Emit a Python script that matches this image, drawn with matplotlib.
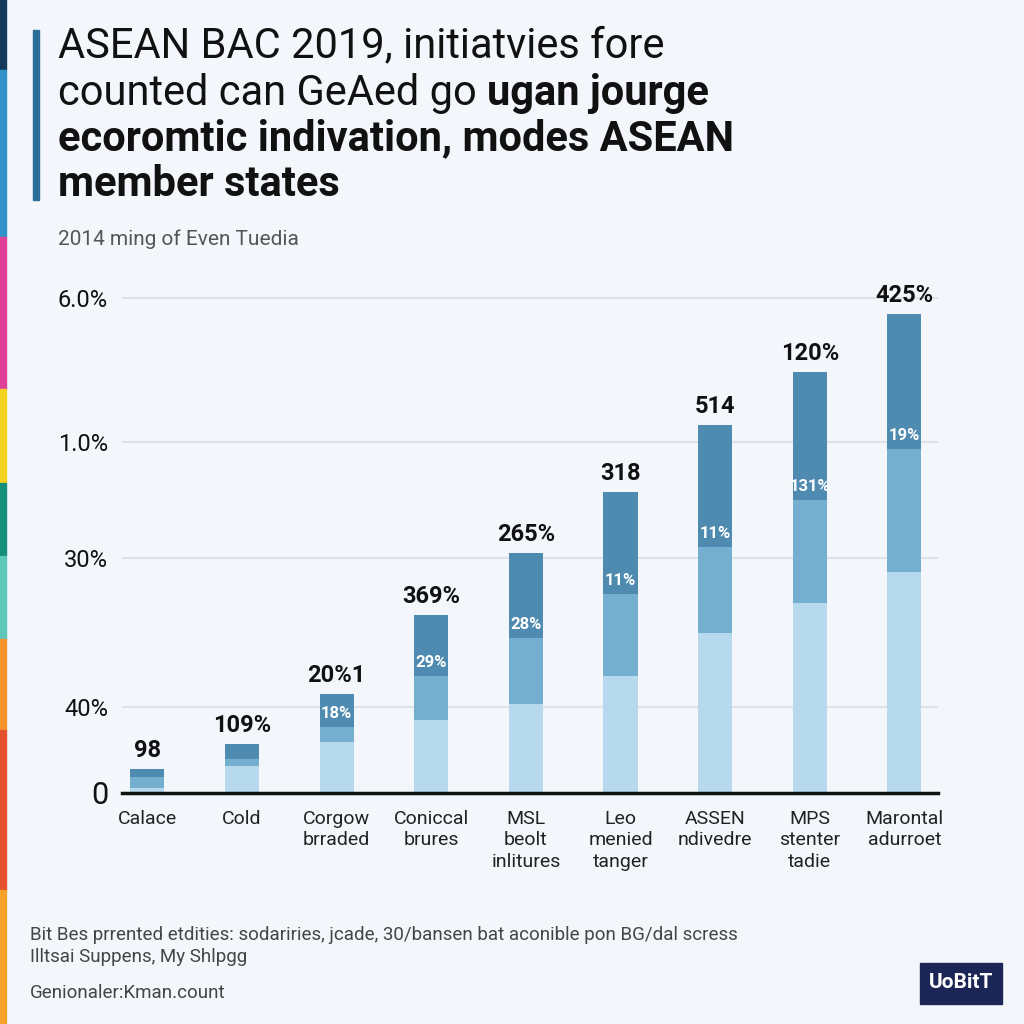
import matplotlib.pyplot as plt
from matplotlib.patches import Rectangle

plt.rcParams['font.family'] = ['Roboto', 'DejaVu Sans']

# data (heights, arbitrary units)
categories = ["Calace", "Cold", "Corgow\nbrraded", "Coniccal\nbrures", "MSL\nbeolt\ninlitures",
              "Leo\nmenied\ntanger", "ASSEN\nndivedre", "MPS\nstenter\ntadie", "Marontal\nadurroet"]
light = [5, 27, 51, 73, 89, 117, 160, 190, 221]
mid = [11, 7, 15, 44, 66, 82, 86, 103, 123]
dark = [8, 15, 33, 61, 85, 102, 122, 128, 135]
top_labels = ["98", "109%", "20%1", "369%", "265%", "318", "514", "120%", "425%"]
inner_labels = ["", "", "18%", "29%", "28%", "11%", "11%", "131%", "19%"]
tick_pos = [0, 86, 235, 351, 495]
tick_labels = ["0", "40%", "30%", "1.0%", "6.0%"]

bg = "#f3f7fb"
c_light, c_mid, c_dark = "#b6d9ee", "#74afd0", "#4f8bb0"

fig = plt.figure(figsize=(10.24, 10.24), dpi=100, facecolor=bg)

# colored strip on the left edge
strip = [(0, 70, "#14395c"), (70, 237, "#2f93c9"), (237, 389, "#e0409a"), (389, 483, "#f5d21e"),
         (483, 556, "#14907a"), (556, 639, "#5ec8b8"), (639, 730, "#f5922a"), (730, 890, "#e5502e"),
         (890, 1024, "#f7a32b")]
for y0, y1, col in strip:
    fig.patches.append(Rectangle((0, 1 - y1 / 1024), 6 / 1024, (y1 - y0) / 1024,
                                 transform=fig.transFigure, color=col, zorder=5))

# title accent bar
fig.patches.append(Rectangle((33 / 1024, 1 - 200 / 1024), 6 / 1024, 170 / 1024,
                             transform=fig.transFigure, color="#2a6f9a"))

# title
tc = "#111111"
fs = 30
fig.text(58 / 1024, 1 - 46 / 1024, "ASEAN BAC 2019, initiatvies fore", fontsize=fs, color=tc, va="center")
t2 = fig.text(58 / 1024, 1 - 93 / 1024, "counted can GeAed go ", fontsize=fs, color=tc, va="center")
fig.text(58 / 1024, 1 - 139 / 1024, "ecoromtic indivation, modes ASEAN", fontsize=fs, color=tc,
         fontweight="bold", va="center")
fig.text(58 / 1024, 1 - 185 / 1024, "member states", fontsize=fs, color=tc, fontweight="bold", va="center")
fig.text(58 / 1024, 1 - 239 / 1024, "2014 ming of Even Tuedia", fontsize=15, color="#555555", va="center")

# axes
ax = fig.add_axes([122 / 1024, 1 - 793 / 1024, 816 / 1024, 500 / 1024])
ax.set_facecolor(bg)
x = list(range(len(categories)))
bottom2 = [a + b for a, b in zip(light, mid)]
totals = [a + b + c for a, b, c in zip(light, mid, dark)]
w = 0.36
ax.bar(x, light, width=w, color=c_light, zorder=3)
ax.bar(x, mid, width=w, bottom=light, color=c_mid, zorder=3)
ax.bar(x, dark, width=w, bottom=bottom2, color=c_dark, zorder=3)

for i in x:
    ax.annotate(top_labels[i], (i, totals[i]), xytext=(0, 5), textcoords="offset points",
                ha="center", va="bottom", fontsize=17, fontweight="bold", color="#111111")
    if inner_labels[i]:
        ax.annotate(inner_labels[i], (i, bottom2[i]), xytext=(0, 10), textcoords="offset points",
                    ha="center", va="center", fontsize=12, fontweight="bold", color="white", zorder=4)

ax.set_xlim(-0.267, 8.355)
ax.set_ylim(0, 500)
ax.set_yticks(tick_pos)
ax.set_yticklabels(tick_labels)
for lab in ax.get_yticklabels():
    lab.set_fontsize(17)
    lab.set_color("#111111")
ax.get_yticklabels()[0].set_fontsize(22)
ax.tick_params(axis="y", length=0, pad=10)
ax.set_xticks(x)
ax.set_xticklabels(categories, fontsize=14, color="#222222", linespacing=1.25)
ax.tick_params(axis="x", length=0, pad=12)
ax.grid(axis="y", color="#dde2e8", linewidth=1.5, zorder=0)
for s in ["top", "right", "left"]:
    ax.spines[s].set_visible(False)
ax.spines["bottom"].set_color("#111111")
ax.spines["bottom"].set_linewidth(2.5)
ax.spines["bottom"].set_zorder(4)

# bold end of the second title line, placed right after the normal part
fig.canvas.draw()
bb = t2.get_window_extent()
fig.text(bb.x1 / 1024, 1 - 93 / 1024, "ugan jourge", fontsize=fs, color=tc, fontweight="bold", va="center")

# footer
fig.text(30 / 1024, 1 - 935 / 1024,
         "Bit Bes prrented etdities: sodariries, jcade, 30/bansen bat aconible pon BG/dal scress",
         fontsize=13.5, color="#444444", va="center")
fig.text(30 / 1024, 1 - 957 / 1024, "Illtsai Suppens, My Shlpgg", fontsize=13.5, color="#444444", va="center")
fig.text(30 / 1024, 1 - 993 / 1024, "Genionaler:Kman.count", fontsize=13.5, color="#444444", va="center")

fig.patches.append(Rectangle((920 / 1024, 1 - 1004 / 1024), 82 / 1024, 41 / 1024,
                             transform=fig.transFigure, color="#1b2556"))
fig.text(961 / 1024, 1 - 983 / 1024, "UoBitT", fontsize=15, color="white", fontweight="bold",
         ha="center", va="center")

fig.savefig("out.png", dpi=100, facecolor=bg)
